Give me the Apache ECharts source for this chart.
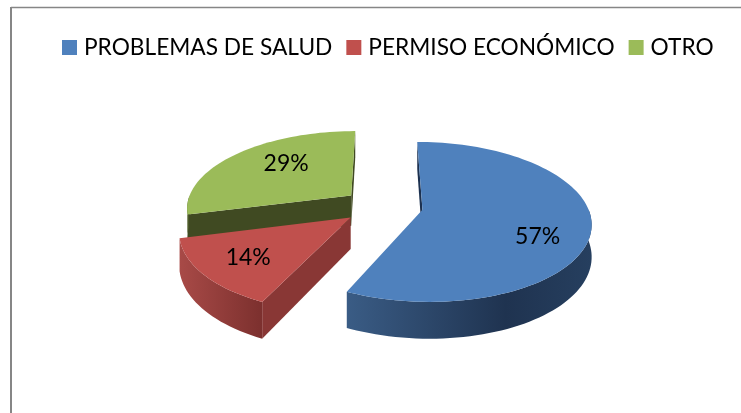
<!DOCTYPE html>
<html>
<head>
<meta charset="utf-8">
<style>html,body{margin:0;padding:0;background:#fff}#c{width:741px;height:413px}</style>
<script src="https://cdn.jsdelivr.net/npm/echarts@6/dist/echarts.min.js"></script>
</head>
<body>
<div id="c"></div>
<script>
const categories = ['PROBLEMAS DE SALUD', 'PERMISO ECONÓMICO', 'OTRO'];
const values = [57, 14, 29];
const topColors = ['#4f81bd', '#c0504d', '#9bbb59'];
const cutColors = ['#1c3150', '#893735', '#404a22'];
const wallStops = [
  [[0, '#3a5c85'], [0.65, '#1f3350'], [1, '#263f5f']],
  [[0, '#a84a47'], [1, '#7c302e']],
  [[0, '#5d7035'], [1, '#404a22']]
];
const labelNudge = [[-2, 15], [-2.5, 2], [6, -6]];
const labelRadius = [0.7, 0.7, 0.6];

// projection of the tilted pie
const CX = 382.6, CY = 206, SX = 167.5, SY = 77, K = -0.15, EXPLODE_U = 0.242, EXPLODE_V = 0.227, RIM_U = 0.985, DEPTH = 31, STEP = 2;
const total = values.reduce((a, b) => a + b, 0);
const toRad = d => d * Math.PI / 180;

function project(u, v, drop) {
  const w = 1 + K * v;
  return [CX + SX * u / w, CY + SY * v / w + (drop ? DEPTH / w : 0)];
}
function slicePoint(mid, angle, r, drop) {
  const u = EXPLODE_U * Math.sin(toRad(mid)) + RIM_U * r * Math.sin(toRad(angle));
  const v = -EXPLODE_V * Math.cos(toRad(mid)) - r * Math.cos(toRad(angle));
  return project(u, v, drop);
}
function arc(mid, a0, a1, drop) {
  const pts = [];
  for (let a = a0; a < a1; a += STEP) pts.push(slicePoint(mid, a, 1, drop));
  pts.push(slicePoint(mid, a1, 1, drop));
  return pts;
}
function cross(o, a, b) {
  return (a[0] - o[0]) * (b[1] - o[1]) - (a[1] - o[1]) * (b[0] - o[0]);
}
function cutWall(mid, angle, color, children) {
  const a = slicePoint(mid, angle, 0, false), b = slicePoint(mid, angle, 1, false);
  const m = slicePoint(mid, mid, 0.5, false);
  const down = [a[0], a[1] + 10];
  if (cross(a, b, m) * cross(a, b, down) >= 0) return;
  const a2 = slicePoint(mid, angle, 0, true), b2 = slicePoint(mid, angle, 1, true);
  children.push({ type: 'polygon', shape: { points: [a, b, b2, a2] }, style: { fill: color } });
}

function sliceRenderer(index) {
  const before = values.slice(0, index).reduce((a, b) => a + b, 0);
  return function (params, api) {
    const value = api.value(0);
    const a0 = before / total * 360, a1 = (before + value) / total * 360, mid = (a0 + a1) / 2;
    const children = [];
    cutWall(mid, a0, cutColors[index], children);
    cutWall(mid, a1, cutColors[index], children);
    // outer wall, only the front half of the rim
    const f0 = Math.max(a0, 90), f1 = Math.min(a1, 270);
    if (f1 > f0) {
      const topArc = arc(mid, f0, f1, false), lowArc = arc(mid, f0, f1, true).reverse();
      children.push({
        type: 'polygon',
        shape: { points: topArc.concat(lowArc) },
        style: {
          fill: new echarts.graphic.LinearGradient(0, 0, 1, 0,
            wallStops[index].map(s => ({ offset: s[0], color: s[1] })))
        }
      });
    }
    const apex = slicePoint(mid, a0, 0, false);
    children.push({
      type: 'polygon',
      shape: { points: [apex].concat(arc(mid, a0, a1, false)) },
      style: { fill: topColors[index] }
    });
    const lp = slicePoint(mid, mid, labelRadius[index], false);
    children.push({
      type: 'text',
      style: {
        text: Math.round(value / total * 100) + '%',
        x: lp[0] + labelNudge[index][0], y: lp[1] + labelNudge[index][1],
        align: 'center', verticalAlign: 'middle',
        font: '23px Lato', fill: '#000'
      }
    });
    return { type: 'group', children };
  };
}

const chart = echarts.init(document.getElementById('c'), null, { renderer: 'canvas' });
const order = [2, 1, 0];
chart.setOption({
  animation: false,
  backgroundColor: '#fff',
  color: topColors,
  legend: {
    data: categories.map(name => ({ name, itemStyle: { color: topColors[categories.indexOf(name)] } })),
    left: 62, top: 36, itemWidth: 15, itemHeight: 15, itemGap: 14, icon: 'rect',
    padding: 0, selectedMode: false,
    textStyle: { fontFamily: 'Lato', fontSize: 22.7, color: '#000', padding: [0, 0, 0, 2] }
  },
  graphic: [
    { type: 'line', silent: true, shape: { x1: 11, y1: 7.5, x2: 741, y2: 7.5 }, style: { stroke: '#868686', lineWidth: 1.5 } },
    { type: 'line', silent: true, shape: { x1: 11, y1: 7, x2: 11, y2: 413 }, style: { stroke: '#868686', lineWidth: 2 } }
  ],
  series: order.map(i => ({
    type: 'custom',
    name: categories[i],
    coordinateSystem: 'none',
    silent: true,
    itemStyle: { color: topColors[i] },
    data: [[values[i]]],
    renderItem: sliceRenderer(i)
  }))
});
</script>
</body>
</html>
